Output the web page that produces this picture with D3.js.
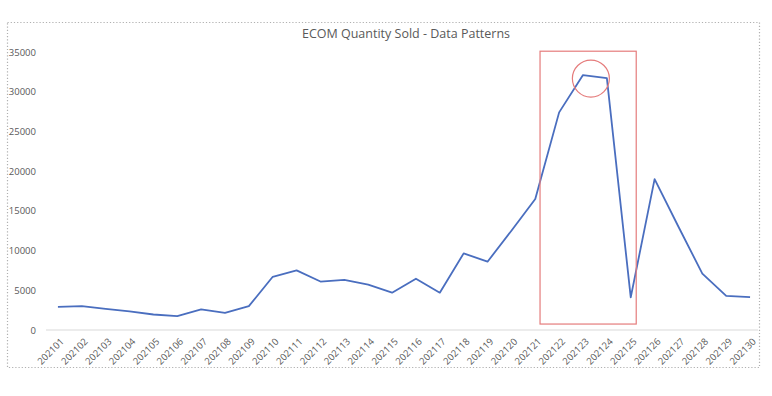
<html>
  <head>
    <title>ECOM Quantity Sold</title>
    <style type="text/css">
      body { margin: 0; background: #fff; }
      text { font-family: "Open Sans", "Liberation Sans", sans-serif; fill: #595959; }
    </style>
    <script src="https://d3js.org/d3.v7.min.js"></script>
  </head>
  <body>
    <svg class="chart"></svg>
    <script>

// weeks and quantity sold
var weeks = ["202101","202102","202103","202104","202105","202106","202107","202108","202109","202110",
             "202111","202112","202113","202114","202115","202116","202117","202118","202119","202120",
             "202121","202122","202123","202124","202125","202126","202127","202128","202129","202130"];
var quantity = [2900, 3000, 2650, 2350, 1950, 1750, 2600, 2150, 3000, 6700,
                7500, 6100, 6300, 5700, 4700, 6450, 4700, 9650, 8600, 12500,
                16500, 27400, 32100, 31700, 4100, 19000, 13000, 7100, 4300, 4150];
var yTicks = [0, 5000, 10000, 15000, 20000, 25000, 30000, 35000];
var title = "ECOM Quantity Sold - Data Patterns";

// highlighted region (weeks) and peak marker
var boxFrom = "202121", boxTo = "202125";
var peakWeek = "202123", peakValue = 31650;

var W = 772, H = 396;
var margin = {top: 52, right: 10, bottom: 66, left: 46},
    width = 762 - margin.left,
    height = 330 - margin.top;

var svg = d3.select(".chart")
    .attr("width", W)
    .attr("height", H);

// dotted chart frame
svg.append("rect")
  .attr("x", 7.5).attr("y", 22.5)
  .attr("width", 752).attr("height", 345)
  .attr("fill", "none")
  .attr("stroke", "#b0b0b0")
  .attr("stroke-width", 1.2)
  .attr("stroke-dasharray", "1.2,2");

svg.append("text")
  .attr("x", 406).attr("y", 38)
  .attr("text-anchor", "middle")
  .style("font-size", "12.5px")
  .text(title);

var g = svg.append("g")
  .attr("transform", "translate(" + margin.left + "," + margin.top + ")");

var x = d3.scalePoint()
  .domain(weeks)
  .range([0, width])
  .padding(0.5);

var y = d3.scaleLinear()
  .domain([0, 35000])
  .range([height, 0]);

// y labels
var yAxis = g.append("g")
  .call(d3.axisLeft(y).tickValues(yTicks).tickSize(0).tickPadding(10).tickFormat(d3.format("d")));
yAxis.select(".domain").remove();
yAxis.selectAll("text").style("font-size", "9.5px").attr("fill", "#595959").attr("x", -10);

// baseline
g.append("line")
  .attr("x1", 0).attr("x2", width - 4)
  .attr("y1", y(0)).attr("y2", y(0))
  .attr("stroke", "#d9d9d9");

// x labels rotated
var xAxis = g.append("g")
  .attr("transform", "translate(0," + height + ")")
  .call(d3.axisBottom(x).tickSize(0));
xAxis.select(".domain").remove();
xAxis.selectAll("text")
  .style("font-size", "9.5px")
  .attr("fill", "#666666")
  .attr("text-anchor", "end")
  .attr("dy", 0)
  .attr("transform", "translate(4,10) rotate(-45)");

// the line
g.append("path")
  .datum(quantity)
  .attr("fill", "none")
  .attr("stroke", "#4a6ebf")
  .attr("stroke-width", 1.8)
  .attr("stroke-linejoin", "round")
  .attr("d", d3.line()
    .x(function(d, i) { return x(weeks[i]); })
    .y(function(d) { return y(d); }));

// highlight box
var step = x.step();
var bx0 = x(boxFrom) + 0.2 * step, bx1 = x(boxTo) + 0.23 * step;
g.append("rect")
  .attr("x", bx0).attr("y", y(35100))
  .attr("width", bx1 - bx0)
  .attr("height", y(750) - y(35100))
  .attr("fill", "none")
  .attr("stroke", "#e57c7c")
  .attr("stroke-width", 1.2);

// peak circle
g.append("circle")
  .attr("cx", x(peakWeek) + 0.33 * step)
  .attr("cy", y(peakValue))
  .attr("r", 18.5)
  .attr("fill", "none")
  .attr("stroke", "#e57c7c")
  .attr("stroke-width", 1.2);

</script>
  </body>
</html>
